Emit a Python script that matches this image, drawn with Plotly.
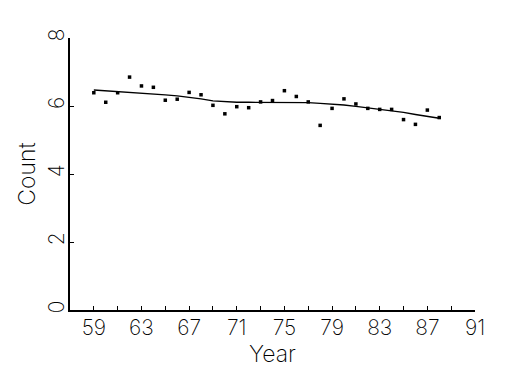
import plotly.graph_objects as go

years = list(range(59, 89))
counts = [6.39, 6.11, 6.39, 6.85, 6.59, 6.55, 6.17, 6.20, 6.40, 6.33,
          6.02, 5.77, 5.98, 5.95, 6.12, 6.16, 6.45, 6.28, 6.12, 5.43,
          5.93, 6.21, 6.06, 5.93, 5.90, 5.90, 5.60, 5.46, 5.88, 5.66]
smooth = [6.47, 6.45, 6.42, 6.40, 6.38, 6.36, 6.33, 6.30, 6.26, 6.21,
          6.15, 6.12, 6.11, 6.11, 6.11, 6.11, 6.11, 6.11, 6.10, 6.08,
          6.06, 6.03, 5.99, 5.95, 5.91, 5.87, 5.81, 5.75, 5.69, 5.64]
x_ticks = [59, 63, 67, 71, 75, 79, 83, 87, 91]
y_ticks = [0, 2, 4, 6, 8]

tick_font = dict(family="Inter, DejaVu Sans", size=21, color="black", weight=200)
title_font = dict(family="Inter, DejaVu Sans", size=23, color="black", weight=200)

fig = go.Figure()
fig.add_trace(go.Scatter(x=years, y=counts, mode="markers",
                         marker=dict(symbol="square", size=3.5, color="black"),
                         showlegend=False))
fig.add_trace(go.Scatter(x=years, y=smooth, mode="lines",
                         line=dict(color="black", width=1.3),
                         showlegend=False))

fig.update_layout(
    width=525, height=375,
    margin=dict(l=70, r=50, t=38, b=65),
    paper_bgcolor="white", plot_bgcolor="white",
    font=tick_font,
    xaxis=dict(range=[57, 91], tickvals=x_ticks, ticks="inside", ticklen=4,
               tickwidth=1, tickcolor="black", ticklabelstandoff=-2,
               minor=dict(dtick=2, tick0=59, ticks="inside", ticklen=4, tickcolor="black"),
               showline=True, linecolor="black", linewidth=2,
               showgrid=False, zeroline=False,
               title=dict(text="Year", standoff=6, font=title_font), tickfont=tick_font),
    yaxis=dict(range=[0, 8], tickvals=y_ticks, ticks="inside", ticklen=4,
               tickwidth=1, tickcolor="black", tickangle=-90, ticklabelstandoff=-4,
               showline=True, linecolor="black", linewidth=2,
               showgrid=False, zeroline=False,
               title=dict(text="Count", standoff=2, font=title_font), tickfont=tick_font),
)

fig.write_html("out.html")
